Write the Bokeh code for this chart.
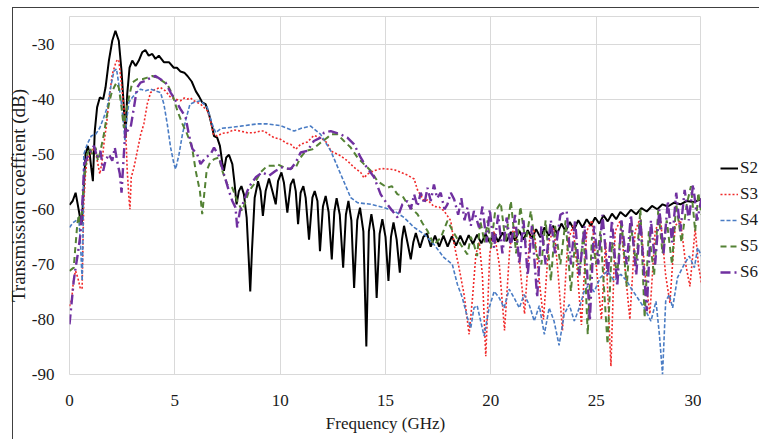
from bokeh.plotting import figure
from bokeh.layouts import row
from bokeh.models import FixedTicker, Range1d, PrintfTickFormatter, Legend, LegendItem
from bokeh.embed import file_html
from bokeh.resources import INLINE

x_ticks = [0, 5, 10, 15, 20, 25, 30]
y_ticks = [-90, -80, -70, -60, -50, -40, -30]
series_names = ["S2", "S3", "S4", "S5", "S6"]

s2_x = [0.0, 0.15, 0.29, 0.39, 0.5, 0.58, 0.68, 0.76, 0.87, 0.96, 1.03, 1.11, 1.2, 1.31, 1.44, 1.6, 1.71, 1.87, 2.03, 2.18,
        2.34, 2.47, 2.58, 2.66, 2.74, 2.85, 2.98, 3.14, 3.29, 3.45, 3.6, 3.76, 3.93, 4.08, 4.24, 4.48, 4.72, 4.95, 5.1, 5.27,
        5.45, 5.6, 5.8, 6.0, 6.15, 6.3, 6.46, 6.62, 6.78, 6.86, 7.01, 7.14, 7.25, 7.33, 7.44, 7.57, 7.73, 7.84, 7.93, 8.04,
        8.16, 8.28, 8.41, 8.52, 8.58, 8.66, 8.79, 8.95, 9.07, 9.18, 9.31, 9.47, 9.63, 9.79, 9.9, 10.06, 10.18, 10.34, 10.5, 10.63,
        10.74, 10.85, 10.97, 11.1, 11.21, 11.37, 11.53, 11.64, 11.77, 11.89, 12.03, 12.16, 12.3, 12.45, 12.57, 12.68, 12.83, 12.99, 13.12, 13.24,
        13.38, 13.51, 13.66, 13.79, 13.95, 14.09, 14.21, 14.33, 14.46, 14.58, 14.72, 14.85, 15.0, 15.14, 15.26, 15.38, 15.53, 15.68, 15.78, 15.88,
        16.04, 16.2, 16.32, 16.44, 16.64, 16.8, 16.97, 17.15, 17.35, 17.55, 17.75, 17.95, 18.15, 18.35, 18.55, 18.75, 18.95, 19.15, 19.35, 19.55,
        19.75, 19.95, 20.15, 20.35, 20.55, 20.75, 20.95, 21.15, 21.35, 21.55, 21.75, 21.95, 22.15, 22.35, 22.55, 22.75, 22.95, 23.15, 23.35, 23.55,
        23.75, 23.95, 24.15, 24.35, 24.55, 24.75, 24.95, 25.15, 25.35, 25.55, 25.75, 25.95, 26.15, 26.4, 26.65, 26.9, 27.15, 27.4, 27.65, 27.9,
        28.15, 28.4, 28.7, 29.0, 29.3, 29.6, 30.0]
s2_y = [-59.2, -58.5, -57.0, -59.1, -61.5, -62.7, -56, -50, -48.5, -50, -52.4, -54.9, -45.8, -41.5, -39.7, -40, -37.9, -33, -29.4, -27.6,
        -29.4, -34.9, -41.5, -47, -39.1, -34.3, -33, -34, -33, -31.5, -31.1, -32.1, -31.8, -32.7, -32.1, -33.3, -33.3, -34.3, -34.3, -35,
        -35.2, -35.8, -36.8, -38.6, -39.5, -40.6, -40.9, -42.7, -45.2, -46.7, -47, -48.5, -51.5, -53, -50.6, -50.1, -51.8, -55.5, -59.1, -56.7,
        -55.8, -57.3, -61.5, -70, -74.9, -67.6, -57.9, -54.9, -56.7, -61.2, -56.7, -54.4, -56.7, -59.1, -54.9, -53.3, -55.2, -60.6, -55.5, -54.5,
        -56.7, -62.7, -57, -55.8, -57.9, -65.5, -57.9, -56.7, -58.5, -67.6, -59.5, -57.6, -60.5, -69.1, -60.5, -58, -61, -70.6, -61, -58.5,
        -62, -74.3, -62, -59.7, -64, -84.9, -64, -60.9, -64, -76.1, -64.5, -61.8, -65, -73, -65, -62.4, -65.5, -71.5, -65.5, -63,
        -66, -69.1, -66, -64.3, -67, -65, -64.4, -66.8, -64.8, -66.8, -64.8, -66.8, -64.9, -66.6, -64.8, -66.5, -64.7, -66.3, -64.6, -66.2,
        -64.5, -66, -64.3, -65.9, -64.2, -65.8, -64.1, -65.7, -63.9, -65.5, -63.8, -65.3, -63.6, -65.1, -63.3, -64.8, -63, -64.4, -62.6, -64,
        -62.3, -63.7, -62.0, -63.3, -61.8, -63, -61.5, -62.6, -61.1, -62.2, -60.8, -61.8, -60.5, -61.3, -60.1, -60.9, -59.8, -60.4, -59.4, -60,
        -59.1, -59.5, -58.8, -59.1, -58.5, -58.7, -58.2]

s3_x = [0.0, 0.1, 0.2, 0.29, 0.4, 0.52, 0.6, 0.64, 0.68, 0.75, 0.81, 0.96, 1.08, 1.16, 1.25, 1.32, 1.44, 1.55, 1.63, 1.76,
        1.87, 2.03, 2.18, 2.27, 2.34, 2.45, 2.58, 2.68, 2.74, 2.82, 2.87, 2.93, 3.06, 3.22, 3.38, 3.53, 3.69, 3.85, 4.08, 4.32,
        4.55, 4.8, 5.04, 5.27, 5.45, 5.59, 5.75, 5.9, 6.22, 6.54, 6.7, 6.83, 7.01, 7.25, 7.49, 7.8, 8.12, 8.44, 8.74, 9.07,
        9.23, 9.5, 9.71, 10.02, 10.3, 10.5, 10.66, 10.74, 10.97, 11.29, 11.6, 11.92, 12.24, 12.4, 12.72, 12.87, 13.19, 13.51, 13.82, 13.98,
        14.14, 14.46, 14.8, 15.09, 15.41, 15.72, 16.04, 16.36, 16.52, 16.83, 17.0, 17.3, 17.55, 17.78, 18.1, 18.26, 18.49, 18.73, 18.97, 19.13,
        19.29, 19.45, 19.6, 19.76, 19.95, 20.15, 20.4, 20.65, 20.9, 21.1, 21.35, 21.6, 21.85, 22.05, 22.3, 22.5, 22.75, 23.0, 23.2, 23.4,
        23.65, 23.9, 24.1, 24.3, 24.55, 24.8, 25.0, 25.25, 25.45, 25.7, 25.9, 26.15, 26.4, 26.6, 26.85, 27.1, 27.35, 27.55, 27.8, 28.05,
        28.3, 28.5, 28.75, 29.0, 29.25, 29.45, 29.7, 29.85, 30.0]
s3_y = [-77.6, -76.5, -72.5, -71.2, -72.5, -74.5, -74.3, -66, -58.5, -54, -51.8, -50, -49.5, -48.8, -49.8, -51.2, -53.6, -51.2, -48.2, -44.5,
        -40.3, -35.5, -33.6, -32.8, -33, -36.7, -41.5, -47, -53, -57.9, -60, -54.2, -52.4, -49.4, -46.4, -44.5, -40.9, -38.8, -38.2, -37.9,
        -38.5, -39.7, -40, -40.3, -39.8, -40, -39.8, -40.3, -40.9, -42.1, -43.9, -46.4, -46.7, -46.2, -46.1, -45.6, -45.8, -46.1, -46.1, -45.8,
        -45.8, -46.5, -47, -47.3, -48, -48.2, -48.8, -49.1, -48.2, -47.8, -46.6, -47, -48, -49.4, -50, -50.3, -51.2, -52.4, -53.3, -54.3,
        -53.6, -53, -52.6, -52.7, -52.8, -53.3, -53.8, -54.5, -56.5, -58.5, -58.3, -59.5, -59.6, -60.3, -62.1, -66.4, -70.6, -75.5, -82.7, -76.1,
        -68.2, -66, -72, -86.7, -68, -64, -70, -82, -67, -63, -69, -79, -65, -63.5, -73, -80, -66, -63.5, -72, -82,
        -66, -63, -71, -81, -64, -62, -70, -80, -66, -88.5, -64, -62, -72, -80, -64, -61.5, -73, -79, -64, -61.5,
        -72, -77, -63, -62, -70, -74, -63.5, -70, -73.5]

s4_x = [0.0, 0.15, 0.29, 0.44, 0.52, 0.6, 0.64, 0.68, 0.84, 1.03, 1.24, 1.44, 1.63, 1.79, 1.95, 2.11, 2.23, 2.34, 2.47, 2.58,
        2.63, 2.71, 2.82, 2.98, 3.18, 3.37, 3.61, 3.85, 4.09, 4.32, 4.48, 4.64, 4.8, 4.96, 5.04, 5.2, 5.36, 5.51, 5.72, 5.9,
        6.22, 6.54, 6.77, 6.94, 7.2, 7.49, 8.12, 8.92, 9.39, 10.0, 10.66, 11.0, 11.45, 11.92, 12.4, 12.87, 13.35, 13.67, 14.3, 14.93,
        15.41, 15.88, 16.36, 16.83, 17.3, 17.78, 18.17, 18.41, 18.65, 18.89, 19.05, 19.2, 19.35, 19.5, 19.68, 19.92, 20.16, 20.4, 20.63, 20.87,
        21.11, 21.35, 21.58, 21.82, 22.06, 22.3, 22.54, 22.77, 23.0, 23.24, 23.48, 23.72, 23.96, 24.2, 24.43, 24.67, 24.9, 25.2, 25.54, 25.85,
        26.17, 26.45, 26.65, 26.97, 27.28, 27.6, 27.84, 28.0, 28.15, 28.3, 28.47, 28.63, 28.86, 29.18, 29.42, 29.66, 29.82, 30.0]
s4_y = [-63.3, -62.5, -62.1, -61.5, -66, -73, -65, -50, -48.2, -46.7, -46.4, -45.2, -43.3, -41.5, -37.9, -34.9, -34.5, -37.3, -40.9, -45.2,
        -47.6, -43.9, -40.6, -39.7, -38.8, -38.2, -38.5, -38.2, -38.5, -38.8, -40.9, -44.5, -48.8, -51.8, -52.7, -50, -46.4, -43.9, -40.9, -40.6,
        -40.3, -41.5, -44.5, -46.1, -45.3, -45.2, -44.9, -44.5, -44.5, -44.8, -45.8, -45.3, -44.9, -46.4, -49.4, -53.6, -57.9, -58.8, -59.1, -59.7,
        -60.3, -61.5, -63.3, -64.5, -66.4, -68.8, -70, -73.6, -76.1, -79.7, -81.5, -77.9, -77.5, -80, -83, -77.9, -74.9, -76.1, -77.9, -74.5,
        -76.1, -77.9, -75.5, -77.3, -80.3, -77.5, -82.7, -77.9, -80.3, -84.7, -79.1, -77.3, -80.3, -77.9, -74.9, -73.6, -75, -72.4, -71.2, -73,
        -71.8, -73, -74.3, -76.1, -77.9, -80.3, -76.7, -82.7, -90, -76.7, -75.5, -77.9, -72.4, -70, -68.5, -70.6, -67, -68.5]

s5_x = [0.0, 0.2, 0.29, 0.37, 0.45, 0.52, 0.6, 0.68, 0.84, 0.97, 1.08, 1.24, 1.35, 1.47, 1.63, 1.76, 1.87, 1.98, 2.11, 2.23,
        2.34, 2.47, 2.58, 2.66, 2.82, 2.98, 3.21, 3.45, 3.69, 3.93, 4.16, 4.4, 4.64, 4.88, 5.12, 5.36, 5.59, 5.82, 5.99, 6.19,
        6.3, 6.41, 6.51, 6.67, 6.86, 7.09, 7.25, 7.49, 7.73, 7.96, 8.2, 8.36, 8.52, 8.75, 9.07, 9.39, 9.71, 9.86, 10.34, 10.74,
        10.97, 11.21, 11.53, 11.92, 12.24, 12.4, 12.72, 13.03, 13.35, 13.67, 13.98, 14.3, 14.62, 15.09, 15.3, 15.57, 15.8, 16.04, 16.2, 16.52,
        16.75, 16.99, 17.3, 17.62, 17.94, 18.2, 18.57, 18.89, 19.05, 19.2, 19.35, 19.5, 19.7, 19.85, 20.0, 20.2, 20.47, 20.7, 20.95, 21.2,
        21.4, 21.65, 21.9, 22.15, 22.4, 22.6, 22.85, 23.05, 23.3, 23.55, 23.8, 24.0, 24.2, 24.4, 24.6, 24.8, 25.0, 25.2, 25.4, 25.54,
        25.75, 26.0, 26.2, 26.45, 26.65, 26.9, 27.1, 27.3, 27.5, 27.75, 27.95, 28.15, 28.35, 28.6, 28.8, 29.05, 29.3, 29.5, 29.7, 29.85,
        30.0]
s5_y = [-71.2, -70.6, -66.4, -62.7, -61, -63, -60, -54.9, -50, -48.8, -50, -48.8, -51.2, -49.4, -46.4, -43.3, -40.9, -39.1, -37.9, -37,
        -37.9, -41.5, -45.2, -42.7, -39.7, -37, -36.4, -36.4, -36.1, -35.8, -36.1, -36.7, -37.3, -39.1, -42.1, -44.5, -46.4, -48.8, -53, -56.7,
        -60.9, -56.7, -53, -51.5, -50.9, -50.6, -53, -55.5, -56.1, -58.5, -60.3, -58.5, -56.7, -55.5, -53.3, -52.1, -52.1, -51.8, -52.7, -52.4,
        -50.6, -49.4, -49.1, -47.9, -47, -46.4, -46.4, -47.6, -48.8, -50.6, -51.8, -53, -54.9, -56.1, -55.8, -57.3, -57.5, -59.1, -59.7, -60.9,
        -62.5, -63.9, -66.4, -65.2, -62.1, -64, -66.4, -68.2, -65, -66.4, -68.5, -62.1, -66, -62, -67, -60.5, -58.8, -66, -58.5, -68,
        -59.5, -66, -60.3, -68, -70, -62, -73, -63, -70, -62, -74.9, -66, -72, -64, -82.7, -65, -70, -64, -76, -84.5,
        -66, -72, -62, -74, -63, -70, -60, -79.7, -64, -72, -60, -68, -62, -70, -59, -66, -59.1, -55.8, -64, -57,
        -61]

s6_x = [0.0, 0.1, 0.2, 0.29, 0.4, 0.52, 0.6, 0.7, 0.92, 1.16, 1.32, 1.47, 1.6, 1.71, 1.87, 2.03, 2.15, 2.26, 2.39, 2.47,
        2.58, 2.66, 2.74, 2.9, 3.06, 3.21, 3.37, 3.6, 3.85, 4.08, 4.32, 4.56, 4.8, 5.04, 5.27, 5.51, 5.67, 5.83, 6.06, 6.22,
        6.46, 6.7, 6.86, 7.09, 7.33, 7.57, 7.73, 7.88, 7.96, 8.09, 8.28, 8.44, 8.6, 8.84, 9.15, 9.47, 9.79, 10.1, 10.5, 10.74,
        10.97, 11.29, 11.6, 11.92, 12.08, 12.4, 12.87, 13.19, 13.51, 13.82, 14.06, 14.46, 14.77, 15.09, 15.33, 15.57, 15.8, 16.04, 16.2, 16.36,
        16.52, 16.67, 16.85, 16.99, 17.15, 17.3, 17.45, 17.62, 17.8, 17.94, 18.1, 18.26, 18.45, 18.6, 18.75, 18.89, 19.05, 19.2, 19.44, 19.6,
        19.8, 19.95, 20.15, 20.35, 20.55, 20.75, 20.95, 21.15, 21.35, 21.55, 21.75, 21.95, 22.2, 22.4, 22.6, 22.85, 23.05, 23.3, 23.6, 23.8,
        24.0, 24.2, 24.45, 24.7, 24.9, 25.1, 25.3, 25.55, 25.75, 26.0, 26.2, 26.45, 26.65, 26.9, 27.1, 27.4, 27.6, 27.8, 28.0, 28.2,
        28.4, 28.6, 28.8, 29.0, 29.2, 29.4, 29.6, 29.8, 30.0]
s6_y = [-80.9, -77, -73, -70.6, -68, -64.5, -59.7, -51.8, -50, -48.5, -50.6, -49.4, -53, -51.2, -50, -51.2, -48.8, -51.2, -53.6, -57,
        -50, -45.2, -45.8, -45.2, -41.5, -37.9, -37, -36.7, -36.1, -35.8, -36.4, -37, -38.8, -40.3, -41.8, -43.3, -46.5, -49, -50, -51.8,
        -50.6, -50, -48.8, -50.3, -53.6, -56.7, -58.5, -59.7, -63.3, -60.3, -58.5, -56.7, -55.5, -54.2, -53.3, -53.9, -53, -52.4, -52.7, -51.5,
        -49.7, -49.4, -47.6, -47, -46.1, -45.8, -46.4, -47, -48.2, -50.6, -52.1, -54.2, -57.3, -59.1, -60.3, -61.5, -59.1, -58.5, -60, -57.3,
        -59.5, -57, -59, -56.1, -58.5, -55.5, -58, -57, -60, -59.1, -57, -58.2, -61, -58, -62, -59.7, -63, -60.3, -63.3, -59.5,
        -66, -60, -67, -61, -68, -61.5, -67, -61, -70, -62, -72, -63, -76, -63, -70, -62, -68, -61, -60.3, -70,
        -62, -72, -63, -80.3, -63, -70, -61, -72, -62, -74, -62, -70, -61, -72, -62, -78.5, -62, -70, -60, -68,
        -58.5, -66, -57, -64, -56.5, -62, -55.5, -62, -58]

FONT = "Liberation Serif"

p = figure(width=701, height=439, output_backend="svg", toolbar_location=None,
           x_range=Range1d(0, 30), y_range=Range1d(-90, -25),
           min_border_left=69, min_border_right=0, min_border_top=16, min_border_bottom=65)
p.border_fill_alpha = 0

p.outline_line_color = "#d9d9d9"
p.xgrid.grid_line_color = "#d9d9d9"
p.ygrid.grid_line_color = "#d9d9d9"
p.xaxis.ticker = FixedTicker(ticks=x_ticks)
p.yaxis.ticker = FixedTicker(ticks=y_ticks)
p.xgrid.ticker = FixedTicker(ticks=x_ticks)
p.ygrid.ticker = FixedTicker(ticks=y_ticks)
p.yaxis.formatter = PrintfTickFormatter(format="%d")

for ax in (p.xaxis[0], p.yaxis[0]):
    ax.axis_line_color = None
    ax.major_tick_line_color = None
    ax.minor_tick_line_color = None
    ax.major_tick_out = 0
    ax.major_tick_in = 0
    ax.major_label_text_font = FONT
    ax.major_label_text_font_size = "17px"
    ax.major_label_text_color = "#1a1a1a"
    ax.axis_label_text_font = FONT
    ax.axis_label_text_font_style = "normal"
    ax.axis_label_text_color = "#1a1a1a"

p.xaxis.axis_label = "Frequency (GHz)"
p.xaxis.axis_label_text_font_size = "17px"
p.xaxis.major_label_standoff = 20
p.xaxis.axis_label_standoff = 5
p.yaxis.axis_label = "Transmission coeffient (dB)"
p.yaxis.axis_label_text_font_size = "19px"
p.yaxis.major_label_standoff = 15
p.yaxis.axis_label_standoff = 0

styles = [
    dict(color="#000000", line_width=2.0, line_dash="solid"),
    dict(color="#f02a2a", line_width=1.6, line_dash="2 2"),
    dict(color="#4a7cc4", line_width=1.6, line_dash="4 2"),
    dict(color="#548235", line_width=2.0, line_dash="6 4"),
    dict(color="#7030a0", line_width=2.4, line_dash="10 4 2 4"),
]
data = [(s2_x, s2_y), (s3_x, s3_y), (s4_x, s4_y), (s5_x, s5_y), (s6_x, s6_y)]

for (xs, ys), st in zip(data, styles):
    p.line(xs, ys, line_color=st["color"], line_width=st["line_width"], line_dash=st["line_dash"])

# legend lives in a narrow companion panel to the right of the plot area;
# its key renderers carry the same series, which fall outside this panel's ranges
q = figure(width=58, height=439, output_backend="svg", toolbar_location=None,
           x_axis_location=None, y_axis_location=None, min_border=0,
           x_range=Range1d(100, 101), y_range=Range1d(100, 101))
q.border_fill_alpha = 0
q.background_fill_alpha = 0
q.outline_line_color = None
q.grid.visible = False

items = []
for name, (xs, ys), st in zip(series_names, data, styles):
    r = q.line(xs, ys, line_color=st["color"], line_width=st["line_width"], line_dash=st["line_dash"])
    items.append(LegendItem(label=name, renderers=[r]))

lg = Legend(items=items, location=(19, 91), margin=0, padding=0,
            border_line_color=None, background_fill_alpha=0,
            label_text_font=FONT, label_text_font_size="17px", label_text_color="#1a1a1a",
            glyph_width=18, glyph_height=22, label_height=22, label_standoff=2, spacing=4)
q.add_layout(lg, "center")

layout = row(p, q, spacing=0)
# outer chart border: a dark line along the top (y=7) and the left (x=12)
layout.styles = {"box-shadow": ("inset 12px 0 0 0 #ffffff, inset 0 7px 0 0 #ffffff, "
                                "inset 13px 0 0 0 #404040, inset 0 8px 0 0 #404040")}

open("out.html", "w").write(file_html(layout, INLINE))
